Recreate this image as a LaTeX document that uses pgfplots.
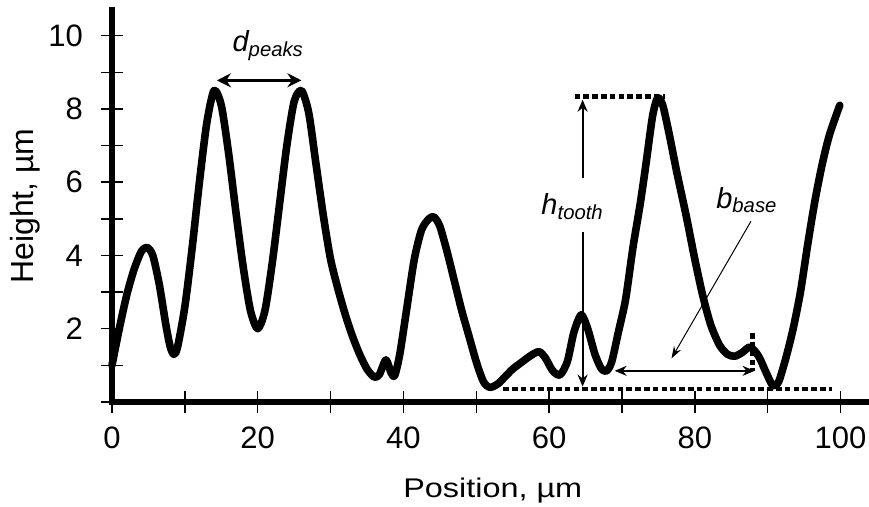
\documentclass[border=0pt]{standalone}
\usepackage{fontspec}
\setmainfont{Liberation Sans}
\usepackage{pgfplots}
\pgfplotsset{compat=1.18}
\usetikzlibrary{arrows.meta}
\begin{document}
\begin{tikzpicture}
\useasboundingbox (-56pt,-52.5pt) rectangle (378.5pt,201pt);
\begin{axis}[
  at={(0,0)}, anchor=south west,
  scale only axis, width=377pt, height=196pt,
  xmin=0, xmax=103.5, ymin=0, ymax=10.7,
  axis x line=bottom, axis y line=left,
  axis line style={-, line width=3.3pt, line cap=rect},
  xtick={0,20,...,100}, minor xtick={10,30,...,90},
  ytick={2,4,...,10}, minor ytick={0,1,3,5,7,9},
  tick align=center, major tick length=11pt, minor tick length=11pt,
  tick style={black, line width=0.7pt},
  tick label style={font=\fontsize{15.5}{18}\selectfont},
  xticklabel style={yshift=-3.5pt},
  yticklabel style={xshift=-5.5pt},
  /pgf/number format/assume math mode=true,
  xlabel={Position, µm}, ylabel={Height, µm},
  every axis x label/.style={at={(axis description cs:0.505,-0.2449)}, anchor=base, xscale=1.2, font=\fontsize{13.5}{16}\selectfont},
  every axis y label/.style={at={(axis description cs:-0.1154,0.5)}, rotate=90, anchor=center, font=\fontsize{16}{18}\selectfont},
  clip=false,
]
\addplot[black, line width=3.8pt, line join=round, line cap=round, smooth, tension=0.45] coordinates {
(0,1.0) (1,2.0) (2,2.9) (3,3.6) (4,4.1) (4.8,4.22) (5.6,4.0) (6.5,3.2) (7.4,2.1) (8.0,1.5) (8.5,1.3) (9.0,1.5)
(10,2.6) (11,4.2) (12,6.0) (13,7.6) (14,8.5) (15,8.1) (16,6.8) (17,5.2) (18,3.7) (19,2.5) (20,2.0)
(21,2.5) (22,3.8) (23,5.4) (24,7.0) (25,8.2) (26,8.5) (27,7.9) (28,6.5) (29,5.1) (30,3.9) (31,3.1)
(32,2.4) (33,1.8) (34,1.3) (35,0.9) (36,0.68) (36.7,0.75) (37.6,1.15) (38.3,0.8) (38.8,0.72) (39.5,1.3)
(40.5,2.6) (41.5,3.9) (42.5,4.7) (43.5,5.0) (44.2,5.05) (45,4.8) (46,4.1) (47,3.3) (48,2.5) (49,1.8)
(50,1.1) (51,0.55) (51.9,0.4) (53,0.5) (54,0.7) (55,0.9) (56,1.05) (57,1.2) (58,1.33) (58.7,1.37)
(59.5,1.2) (60.5,0.85) (61.5,0.74) (62.5,1.1) (63.4,1.9) (64.4,2.38) (65.3,2.0) (66.3,1.3) (67.2,0.9)
(67.9,0.85) (68.6,1.1) (69.5,1.9) (70.5,2.8) (71.5,4.2) (72.5,5.4) (73.3,6.5) (74.2,7.8) (74.9,8.3)
(75.6,8.1) (76.5,7.3) (77.5,6.3) (78.8,5.1) (80,3.9) (81.1,2.9) (82.2,2.1) (83.4,1.55) (84.5,1.3)
(85.5,1.25) (86.5,1.35) (87.5,1.5) (88.2,1.4) (88.9,1.2) (89.8,0.8) (90.7,0.45) (91.5,0.55) (92.5,1.2)
(93.5,2.0) (94.5,3.0) (95.5,4.3) (96.5,5.5) (97.5,6.5) (98.5,7.3) (99.9,8.1)
};
% d_peaks
\draw[line width=1.4pt, {Stealth[length=7pt,width=7pt]}-{Stealth[length=7pt,width=7pt]}] (axis cs:14.4,8.78) -- (axis cs:26.0,8.78);
\node[anchor=base west, inner sep=0pt, font=\fontsize{14.5}{16}\selectfont\itshape] at (axis cs:16.5,9.57) {d\textsubscript{peaks}};
% h_tooth
\draw[line width=2.2pt, dash pattern=on 2.8pt off 1.6pt] (axis cs:63.5,8.34) -- (axis cs:75.9,8.34);
\draw[line width=2.2pt, dash pattern=on 2.8pt off 1.6pt] (axis cs:53.7,0.36) -- (axis cs:98.9,0.36);
\draw[line width=1pt, -{Stealth[length=6pt,width=5pt]}] (axis cs:64.6,6.12) -- (axis cs:64.6,8.25);
\draw[line width=1pt, -{Stealth[length=6pt,width=5pt]}] (axis cs:64.6,4.64) -- (axis cs:64.6,0.42);
\node[anchor=base west, inner sep=0pt, font=\fontsize{14.5}{16}\selectfont\itshape] at (axis cs:58.9,5.11) {h\textsubscript{tooth}};
% b_base
\draw[line width=2.2pt, dash pattern=on 2.8pt off 1.6pt] (axis cs:87.9,1.88) -- (axis cs:87.9,0.85);
\draw[line width=0.8pt, {Stealth[length=6pt,width=5pt]}-{Stealth[length=6pt,width=5pt]}] (axis cs:69.0,0.85) -- (axis cs:88.2,0.85);
\draw[line width=0.5pt, -{Stealth[length=6pt,width=4pt]}] (axis cs:87.7,4.93) -- (axis cs:76.8,1.19);
\node[anchor=base west, inner sep=0pt, font=\fontsize{14.5}{16}\selectfont\itshape] at (axis cs:82.9,5.29) {b\textsubscript{base}};
\end{axis}
\end{tikzpicture}
\end{document}
